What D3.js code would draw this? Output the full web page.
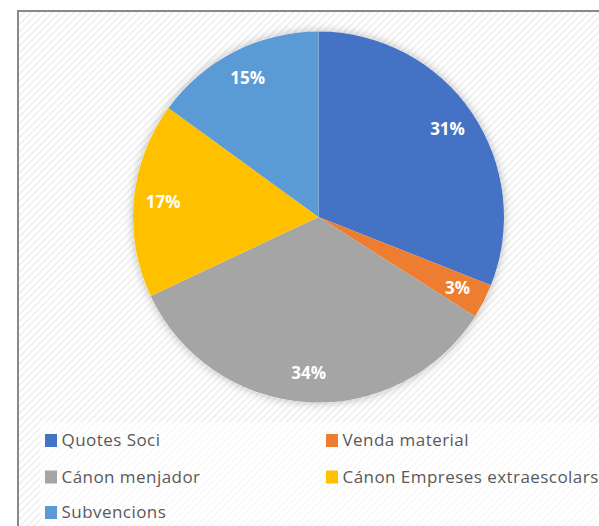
<!DOCTYPE html>
<html>
<head>
<meta charset="utf-8">
<script src="https://cdn.jsdelivr.net/npm/d3@7"></script>
<style>
  body { margin: 0; background: #fff; }
  svg { display: block; }
</style>
</head>
<body>
<script>
var width = 599, height = 526;

var categories = ["Quotes Soci", "Venda material", "Cánon menjador", "Cánon Empreses extraescolars", "Subvencions"];
var values = [31, 3, 34, 17, 15];
var colors = ["#4472c4", "#ed7d31", "#a5a5a5", "#ffc000", "#5b9bd5"];

var cx = 318.5, cy = 217, radius = 185.5;

var svg = d3.select("body").append("svg").attr("width", width).attr("height", height);
var defs = svg.append("defs");

//Diagonal stripe background like the chart area fill
var pat = defs.append("pattern")
  .attr("id", "stripes")
  .attr("patternUnits", "userSpaceOnUse")
  .attr("width", 5).attr("height", 5)
  .attr("patternTransform", "rotate(-45)");
pat.append("rect").attr("width", 5).attr("height", 5).attr("fill", "#ffffff");
pat.append("rect").attr("width", 5).attr("height", 2).attr("fill", "#f1f1f1");

var shadow = defs.append("filter").attr("id", "shadow")
  .attr("x", "-20%").attr("y", "-20%").attr("width", "140%").attr("height", "140%");
shadow.append("feDropShadow")
  .attr("dx", 0).attr("dy", 0).attr("stdDeviation", 5)
  .attr("flood-color", "#000").attr("flood-opacity", 0.28);

//Frame
svg.append("rect")
  .attr("x", 18).attr("y", 11)
  .attr("width", width + 10).attr("height", height + 10)
  .attr("fill", "url(#stripes)")
  .attr("stroke", "#898989").attr("stroke-width", 2);

//Pie
var pie = d3.pie().sort(null).value(function(d) { return d; });
var arc = d3.arc().innerRadius(0).outerRadius(radius);
var labelArc = d3.arc().innerRadius(156).outerRadius(156);
var arcs = pie(values);

var g = svg.append("g").attr("transform", "translate(" + cx + "," + cy + ")");

g.append("circle").attr("r", radius).attr("fill", "#fff").attr("filter", "url(#shadow)");

g.selectAll("path.slice")
  .data(arcs)
  .enter().append("path")
  .attr("class", "slice")
  .attr("d", arc)
  .attr("fill", function(d, i) { return colors[i]; });

var total = d3.sum(values);
g.selectAll("text.lbl")
  .data(arcs)
  .enter().append("text")
  .attr("class", "lbl")
  .attr("transform", function(d) { return "translate(" + labelArc.centroid(d) + ")"; })
  .attr("text-anchor", "middle")
  .attr("dy", "0.36em")
  .attr("font-family", "'Open Sans', sans-serif")
  .attr("font-weight", "bold")
  .attr("font-size", 17)
  .attr("fill", "#fff")
  .text(function(d) { return Math.round(d.value / total * 100) + "%"; });

//Legend
svg.append("rect")
  .attr("x", 40).attr("y", 422)
  .attr("width", width - 40).attr("height", height - 422)
  .attr("fill", "#fff").attr("opacity", 0.6);

var legendX = [45, 326], legendY = [440.5, 477, 512.5];
var legend = svg.selectAll("g.legend")
  .data(categories)
  .enter().append("g")
  .attr("class", "legend")
  .attr("transform", function(d, i) {
    return "translate(" + legendX[i % 2] + "," + legendY[Math.floor(i / 2)] + ")";
  });

legend.append("rect")
  .attr("x", 0).attr("y", -6.5)
  .attr("width", 12).attr("height", 13)
  .attr("fill", function(d, i) { return colors[i]; });

legend.append("text")
  .attr("x", 16.5)
  .attr("dy", "0.35em")
  .attr("font-family", "'Open Sans', sans-serif")
  .attr("font-size", 17)
  .attr("letter-spacing", 0.45)
  .attr("fill", "#595959")
  .text(function(d) { return d; });
</script>
</body>
</html>
